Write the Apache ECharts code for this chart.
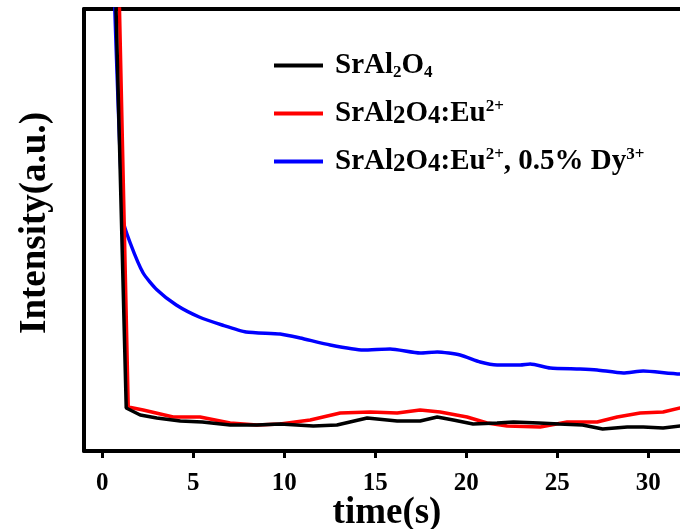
<!DOCTYPE html>
<html>
<head>
<meta charset="utf-8">
<script src="https://cdn.jsdelivr.net/npm/echarts@6/dist/echarts.min.js"></script>
<style>
  html, body { margin: 0; padding: 0; background: #fff; }
  #chart { width: 680px; height: 529px; }
</style>
</head>
<body>
<div id="chart"></div>
<script>
// afterglow decay curves (arbitrary units)
var xTicks = [0, 5, 10, 15, 20, 25, 30];

var blackTime = [0.6, 1.32, 2.09, 3.0, 4.29, 5.5, 7.03, 8.5, 9.78, 11.6, 12.9, 14.56, 16.21, 17.47, 18.41, 19.29, 20.38, 21.7, 22.6, 24.0, 25.1, 26.4, 27.5, 28.85, 29.73, 30.82, 31.76, 32.9];
var blackInt = [557, 43, 36, 33, 30, 29, 26, 26, 27, 25, 26, 33, 30, 30, 34, 31, 27, 28, 29, 28, 27, 26, 22, 24, 24, 23, 25, 25];

var redTime = [0.8, 1.43, 2.25, 3.9, 5.38, 7.03, 8.5, 9.78, 11.43, 13.08, 14.73, 16.21, 17.47, 18.57, 20.05, 21.15, 22.25, 24.07, 25.55, 27.2, 28.3, 29.56, 30.82, 31.76, 32.9];
var redInt = [566, 44, 41, 34, 34, 28, 26, 27, 31, 38, 39, 38, 41, 39, 34, 28, 25, 24, 29, 29, 34, 38, 39, 43, 45];

var blueTime = [0.55, 1.15, 1.54, 2.25, 3.02, 4.07, 5.33, 6.59, 7.91, 9.78, 10.88, 12.53, 14.34, 15.82, 17.47, 18.41, 19.67, 20.77, 21.7, 22.97, 23.52, 24.62, 26.26, 27.2, 28.63, 29.73, 31.76, 32.9];
var blueInt = [520, 231, 208, 178, 161, 146, 134, 126, 119, 117, 113, 106, 101, 102, 98, 99, 96, 89, 86, 86, 87, 83, 82, 81, 78, 80, 77, 77];

function zip(t, v) {
  return t.map(function (x, i) { return [x, v[i]]; });
}

var font = "'Liberation Serif', 'Times New Roman', serif";
var frame = { color: "#000", width: 4 };

var chart = echarts.init(document.getElementById("chart"));
chart.setOption({
  animation: false,
  backgroundColor: "#fff",
  grid: {
    left: 84,
    top: 9,
    bottom: 78,
    right: 0
  },
  legend: {
    orient: "vertical",
    left: 274,
    top: 51,
    padding: 0,
    itemWidth: 49,
    itemHeight: 4,
    itemGap: 17,
    icon: "rect",
    data: ["SrAl2O4", "SrAl2O4:Eu2+", "SrAl2O4:Eu2+, 0.5% Dy3+"],
    formatter: function (name) {
      if (name === "SrAl2O4") return "{n|SrAl}{s|2}{n|O}{s|4}";
      if (name === "SrAl2O4:Eu2+") return "{n|SrAl}{b|2}{n|O}{b|4}{n|:Eu}{p|2+}";
      return "{n|SrAl}{b|2}{n|O}{b|4}{n|:Eu}{p|2+}{n|, 0.5% Dy}{p|3+}";
    },
    textStyle: {
      padding: [0, 0, 0, 7],
      rich: {
        n: { fontFamily: font, fontWeight: "bold", fontSize: 29, lineHeight: 31, color: "#000" },
        s: { fontFamily: font, fontWeight: "bold", fontSize: 17, lineHeight: 17, verticalAlign: "bottom", color: "#000" },
        b: { fontFamily: font, fontWeight: "bold", fontSize: 25, lineHeight: 24, verticalAlign: "bottom", color: "#000" },
        p: { fontFamily: font, fontWeight: "bold", fontSize: 17, lineHeight: 17, verticalAlign: "top", color: "#000" }
      }
    }
  },
  xAxis: [
    {
      type: "value",
      min: -1,
      max: 31.75,
      splitLine: { show: false },
      axisLine: { show: true, onZero: false, lineStyle: frame },
      axisTick: {
        show: true,
        customValues: xTicks,
        length: 7,
        lineStyle: { color: "#000", width: 3 }
      },
      axisLabel: {
        customValues: xTicks,
        margin: 20,
        color: "#000",
        fontFamily: font,
        fontWeight: "bold",
        fontSize: 25
      }
    },
    {
      // top frame line only
      type: "value",
      position: "top",
      min: -1,
      max: 31.75,
      splitLine: { show: false },
      axisLine: { show: true, onZero: false, lineStyle: frame },
      axisTick: { show: false },
      axisLabel: { show: false }
    }
  ],
  yAxis: {
    type: "value",
    min: 0,
    max: 442,
    splitLine: { show: false },
    axisLine: { show: true, onZero: false, lineStyle: frame },
    axisTick: { show: false },
    axisLabel: { show: false }
  },
  graphic: [
    {
      type: "text",
      x: 35,
      y: 223,
      rotation: Math.PI / 2,
      style: {
        text: "Intensity(a.u.)",
        fontFamily: font,
        fontWeight: "bold",
        fontSize: 37,
        fill: "#000",
        align: "center",
        verticalAlign: "middle"
      }
    },
    {
      type: "text",
      x: 387,
      y: 513,
      style: {
        text: "time(s)",
        fontFamily: font,
        fontWeight: "bold",
        fontSize: 37,
        fill: "#000",
        align: "center",
        verticalAlign: "middle"
      }
    }
  ],
  series: [
    {
      name: "SrAl2O4:Eu2+, 0.5% Dy3+",
      type: "line",
      showSymbol: false,
      smooth: 0.2,
      data: zip(blueTime, blueInt),
      color: "#0000ff",
      lineStyle: { width: 3.5, color: "#0000ff" }
    },
    {
      name: "SrAl2O4:Eu2+",
      type: "line",
      showSymbol: false,
      data: zip(redTime, redInt),
      color: "#ff0000",
      lineStyle: { width: 3.5, color: "#ff0000" }
    },
    {
      name: "SrAl2O4",
      type: "line",
      showSymbol: false,
      data: zip(blackTime, blackInt),
      color: "#000000",
      lineStyle: { width: 3.5, color: "#000000" }
    }
  ]
});
</script>
</body>
</html>
